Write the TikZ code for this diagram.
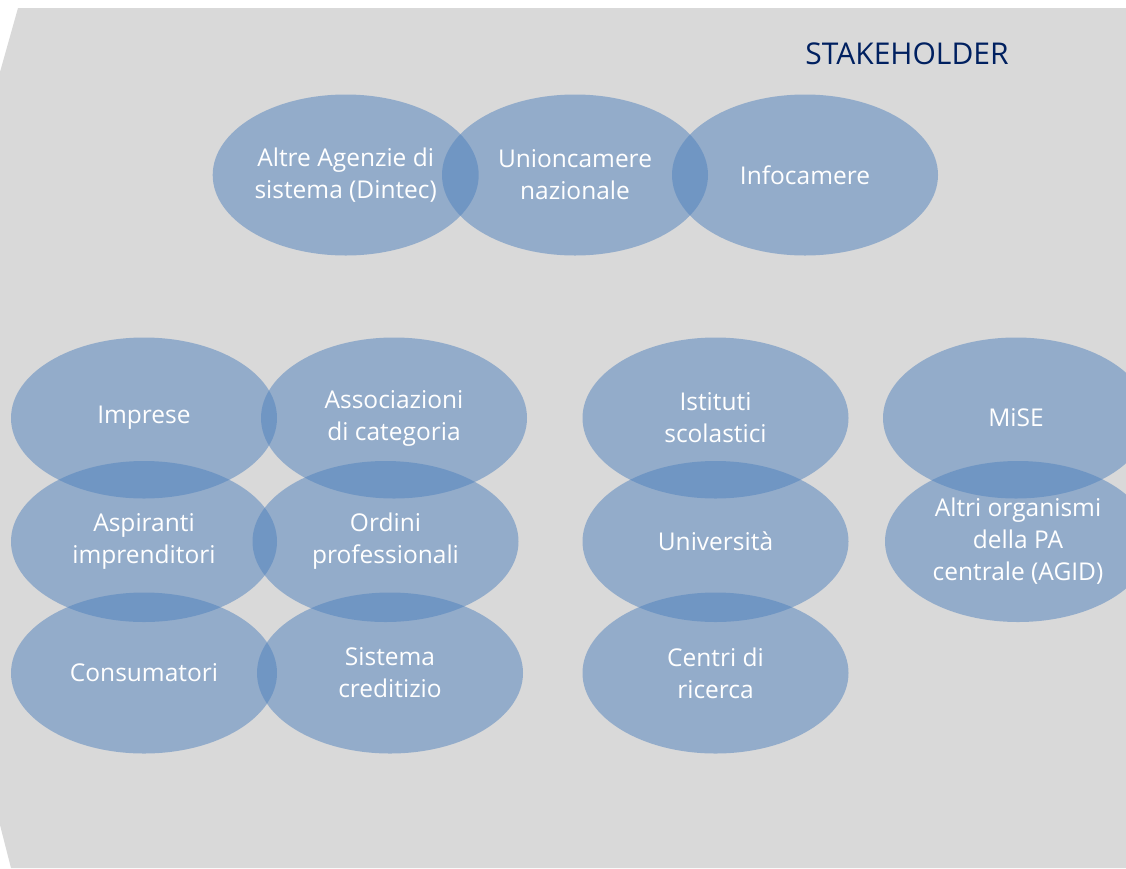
\documentclass[tikz,border=0pt]{standalone}
\usepackage{fontspec}
\setmainfont{Open Sans}
\usetikzlibrary{shapes.geometric,positioning}
\definecolor{bgrey}{RGB}{217,217,217}
\definecolor{accent}{RGB}{79,129,189}
\definecolor{darkblue}{RGB}{0,32,96}

\begin{document}
\begin{tikzpicture}[x=1pt,y=-1pt,every node/.style={font=\fontsize{24.5}{32}\selectfont}]
\tikzstyle{sh}=[ellipse,fill=accent,fill opacity=.5,text opacity=1,text=white,minimum width=266,minimum height=161,inner sep=-15pt,align=center]
\clip (0,0) rectangle (1126,868);
\fill[bgrey] (18,8) -- (1126,8) -- (1126,868) -- (11,868) -- (0,825) -- (0,72) -- cycle;
\node[text=darkblue,anchor=base,font=\fontsize{30}{36}\selectfont] (title) at (907,64.3) {STAKEHOLDER};
% sistema camerale
\node[sh] (alt) at (345.7,175) {Altre Agenzie di\\sistema (Dintec)};
\node[sh] (unc) at (575,175) {Unioncamere\\nazionale};
\node[sh] (inf) at (805,175) {Infocamere};
% imprese e associazioni
\node[sh] (imp) at (144,418) {Imprese};
\node[sh] (ass) at (394,418) {Associazioni\\di categoria};
\node[sh] (asp) at (144,541.5) {Aspiranti\\imprenditori};
\node[sh] (ord) at (385.5,541.5) {Ordini\\professionali};
\node[sh] (con) at (144,673) {Consumatori};
\node[sh] (sis) at (390,673) {Sistema\\creditizio};
% formazione e ricerca
\node[sh] (ist) at (715.5,418) {Istituti\\scolastici};
\node[sh] (uni) at (715.5,541.5) {Università};
\node[sh] (cen) at (715.5,673) {Centri di\\ricerca};
% PA centrale
\node[sh] (mis) at (1016,418) {MiSE};
\node[sh] (aor) at (1018,541.5) {Altri organismi\\della PA\\centrale (AGID)};
\end{tikzpicture}
\end{document}
